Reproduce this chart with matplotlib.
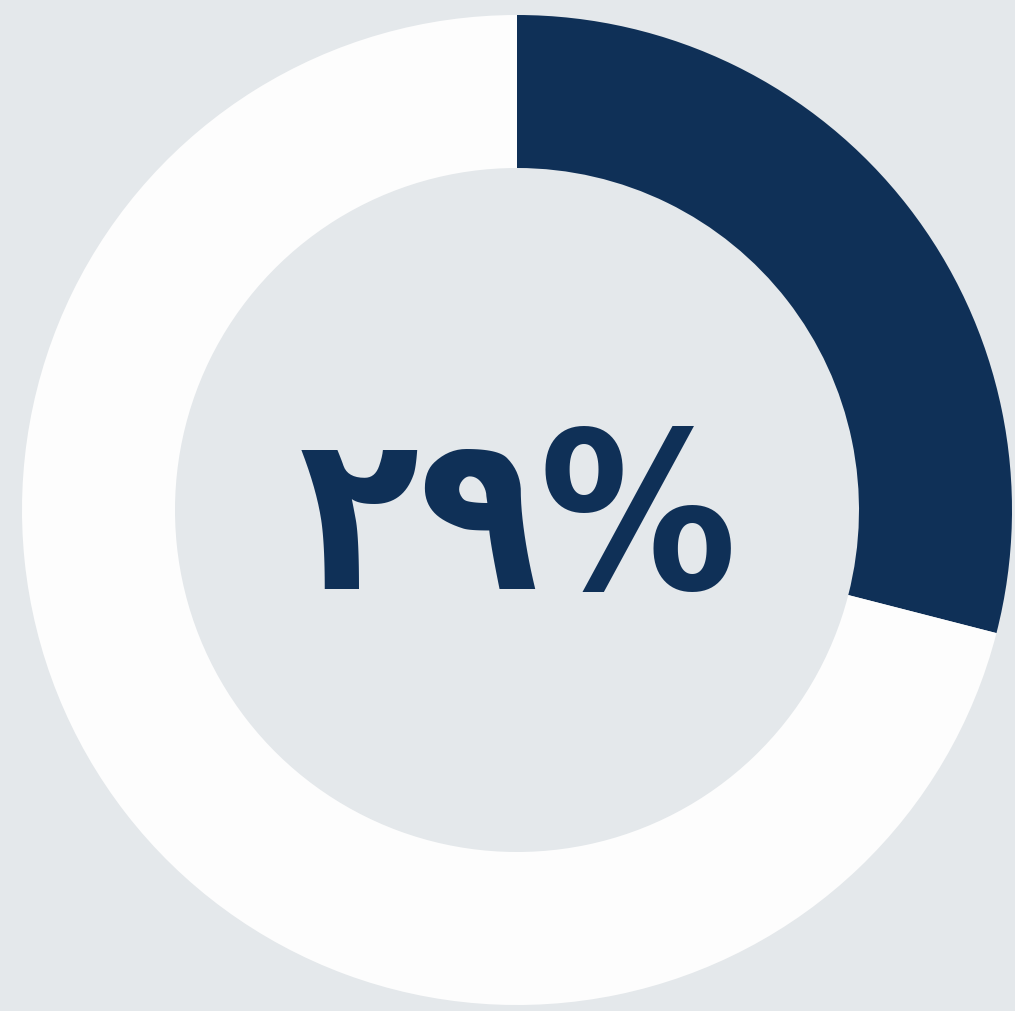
import matplotlib.pyplot as plt

# donut data: share shown vs. remainder
labels = ["filled", "rest"]
values = [29, 71]
center_label = "۲۹%"

colors = ["#0f3057", "#fdfdfd"]
bg = "#e4e8eb"

W, H = 1015, 1011
fig = plt.figure(figsize=(W / 100, H / 100), dpi=100, facecolor=bg)
ax = fig.add_axes([0, 0, 1, 1])
ax.set_facecolor(bg)

cx, cy = 517, H - 510
r_out, r_in = 495, 342

ax.pie(values, colors=colors, startangle=90, counterclock=False,
       center=(cx, cy), radius=r_out, frame=True,
       wedgeprops={"width": r_out - r_in, "linewidth": 0})

ax.text(cx + 1, cy - 19, center_label, ha="center", va="center",
        fontsize=158, fontweight="bold", fontstretch="condensed",
        color=colors[0], family=["DejaVu Sans"])

ax.set_xlim(0, W)
ax.set_ylim(0, H)
ax.set_aspect("equal")
ax.axis("off")

fig.savefig("out.png", dpi=100, facecolor=bg)
